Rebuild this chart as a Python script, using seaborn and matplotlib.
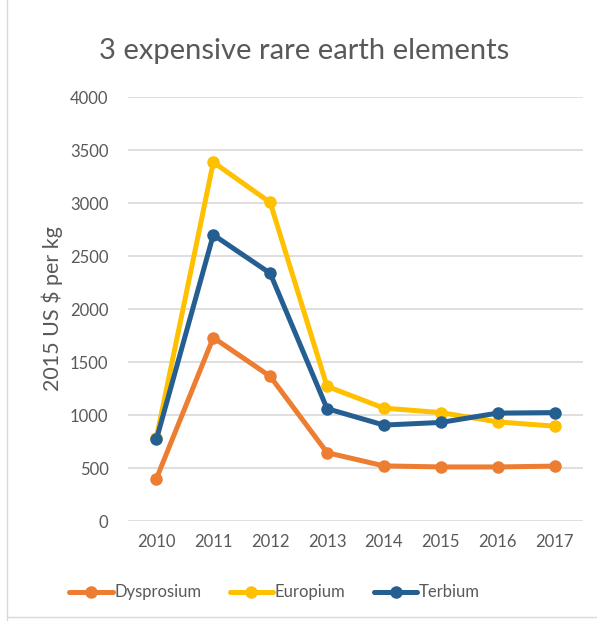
import pandas as pd
import matplotlib.pyplot as plt
import seaborn as sns
from matplotlib.lines import Line2D

# Data
years = [2010, 2011, 2012, 2013, 2014, 2015, 2016, 2017]
dysprosium = [400, 1730, 1365, 645, 520, 510, 510, 518]
europium = [785, 3385, 3005, 1270, 1065, 1023, 935, 895]
terbium = [770, 2700, 2337, 1060, 905, 930, 1018, 1023]

df = pd.DataFrame({
    'Year': years * 3,
    'Value': dysprosium + europium + terbium,
    'Element': ['Dysprosium'] * 8 + ['Europium'] * 8 + ['Terbium'] * 8,
})

palette = {'Dysprosium': '#ED7D31', 'Europium': '#FFC000', 'Terbium': '#255E91'}
text_col = '#595959'

sns.set_style('white')
plt.rcParams['font.family'] = ['Lato', 'DejaVu Sans']

fig = plt.figure(figsize=(5.97, 6.21), dpi=100)
ax = fig.add_axes([0.2144, 0.161, 0.7621, 0.6828])

sns.lineplot(data=df, x='Year', y='Value', hue='Element', palette=palette,
             marker='o', markersize=9, markeredgewidth=0, linewidth=3.6,
             ax=ax, legend=False)

ax.set_xlim(2009.5, 2017.5)
ax.set_ylim(0, 4000)
ax.set_xticks(years)
ax.set_yticks(range(0, 4001, 500))
ax.grid(True, axis='y', color='#D9D9D9', linewidth=1.2)
ax.set_axisbelow(True)
for s in ax.spines.values():
    s.set_visible(False)
ax.tick_params(axis='both', length=0, labelsize=12, labelcolor=text_col)
ax.tick_params(axis='x', pad=9)
ax.tick_params(axis='y', pad=14)
ax.set_xlabel('')
ax.set_ylabel('2015 US $ per kg', fontsize=15.5, color=text_col, labelpad=5)

fig.text(0.51, 0.918, '3 expensive rare earth elements', ha='center', va='center',
         fontsize=21, color=text_col)

handles = [Line2D([0], [0], color=c, linewidth=3.6, marker='o', markersize=9,
                  markeredgewidth=0) for c in palette.values()]
fig.legend(handles, list(palette.keys()), loc='center', bbox_to_anchor=(0.46, 0.046),
           ncol=3, frameon=False, fontsize=12, labelcolor=text_col,
           handlelength=2.6, handletextpad=0.1, columnspacing=1.7)

# light border like the original chart frame
fig.add_artist(Line2D([0.012, 0.012], [0.0, 1.0], color='#D9D9D9', linewidth=1))
fig.add_artist(Line2D([0.012, 1.0], [0.006, 0.006], color='#D9D9D9', linewidth=1))

plt.savefig('out.png', dpi=100)
